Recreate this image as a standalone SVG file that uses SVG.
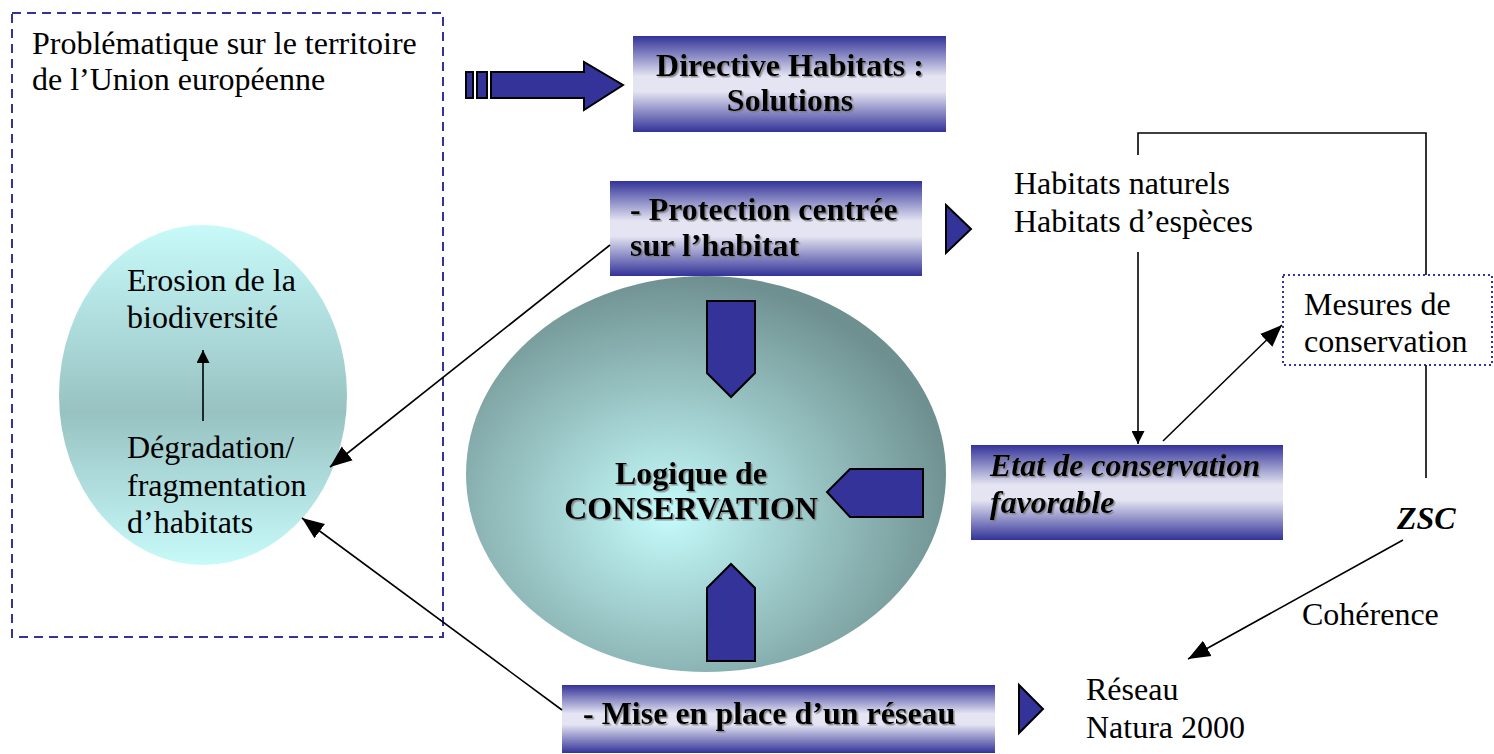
<svg xmlns="http://www.w3.org/2000/svg" width="1494" height="754" viewBox="0 0 1494 754">
  <defs>
    <linearGradient id="boxGrad" x1="0" y1="0" x2="0" y2="1">
      <stop offset="0" stop-color="#333399"/>
      <stop offset="0.42" stop-color="#e4e4f2"/>
      <stop offset="0.58" stop-color="#e4e4f2"/>
      <stop offset="1" stop-color="#333399"/>
    </linearGradient>
    <linearGradient id="leftGrad" x1="0" y1="0" x2="0" y2="1">
      <stop offset="0" stop-color="#c8fafa"/>
      <stop offset="0.55" stop-color="#98c2c2"/>
      <stop offset="1" stop-color="#c8fafa"/>
    </linearGradient>
    <radialGradient id="centerGrad" cx="0.42" cy="0.6" r="0.6">
      <stop offset="0" stop-color="#c6fcfc"/>
      <stop offset="1" stop-color="#6f9090"/>
    </radialGradient>
    <marker id="arrow" viewBox="0 0 10 10" refX="10" refY="5" markerWidth="13" markerHeight="13" markerUnits="userSpaceOnUse" orient="auto">
      <path d="M0,0 L10,5 L0,10 z" fill="#000"/>
    </marker>
    <marker id="arrowBig" viewBox="0 0 10 10" refX="10" refY="5" markerWidth="22" markerHeight="22" markerUnits="userSpaceOnUse" orient="auto">
      <path d="M0,1 L10,5 L0,9 z" fill="#000"/>
    </marker>
    <filter id="shadow" x="-5%" y="-5%" width="110%" height="120%">
      <feDropShadow dx="1.5" dy="1.5" stdDeviation="0.6" flood-color="#777" flood-opacity="0.8"/>
    </filter>
  </defs>
  <style>
    .serif { font-family: "Liberation Serif", "Times New Roman", serif; font-size: 32px; fill: #000; }
    .bold { font-weight: bold; }
    .ital { font-style: italic; }
    .gbox { fill: url(#boxGrad); }
    .blue { fill: #333399; stroke: #000; stroke-width: 2; stroke-linejoin: miter; }
    .conn { fill: none; stroke: #000; stroke-width: 1.6; }
  </style>

  <!-- Problem area -->
  <g id="problem">
    <rect x="12" y="13" width="431" height="624" fill="none" stroke="#33339a" stroke-width="2" stroke-dasharray="9,6"/>
    <text class="serif" x="32" y="54">Problématique sur le territoire</text>
    <text class="serif" x="32" y="90">de l’Union européenne</text>
  </g>

  <!-- Biodiversity ellipse -->
  <g id="erosion">
    <ellipse cx="203" cy="395" rx="144" ry="170" fill="url(#leftGrad)"/>
    <text class="serif" x="127" y="291">Erosion de la</text>
    <text class="serif" x="127" y="328">biodiversité</text>
    <line x1="203" y1="421" x2="203" y2="350" class="conn" marker-end="url(#arrow)"/>
    <text class="serif" x="127" y="458">Dégradation/</text>
    <text class="serif" x="127" y="496">fragmentation</text>
    <text class="serif" x="127" y="533">d’habitats</text>
  </g>

  <!-- Big arrow to directive -->
  <g id="bigArrow">
    <rect x="466" y="72" width="7" height="26" class="blue"/>
    <rect x="477" y="72" width="10" height="26" class="blue"/>
    <path d="M491,72 L584,72 L584,62 L623,85 L584,110 L584,98 L491,98 z" class="blue"/>
  </g>

  <!-- Directive Habitats -->
  <g id="directive">
    <rect x="633" y="36" width="313" height="96" class="gbox"/>
    <g filter="url(#shadow)">
      <text class="serif bold" x="790" y="76" text-anchor="middle">Directive Habitats :</text>
      <text class="serif bold" x="790" y="111" text-anchor="middle">Solutions</text>
    </g>
  </g>

  <!-- Central logic ellipse -->
  <g id="logique">
    <ellipse cx="706" cy="474" rx="240" ry="198" fill="url(#centerGrad)"/>
    <path d="M707,301 L755,301 L755,373 L731,397 L707,373 z" class="blue"/>
    <path d="M923,469 L923,517 L850,517 L827,492 L850,469 z" class="blue"/>
    <path d="M707,661 L755,661 L755,588 L731,564 L707,588 z" class="blue"/>
    <g filter="url(#shadow)">
      <text class="serif bold" x="691" y="484" text-anchor="middle">Logique de</text>
      <text class="serif bold" x="691" y="519" text-anchor="middle">CONSERVATION</text>
    </g>
  </g>

  <!-- Protection -->
  <g id="protection">
    <rect x="610" y="181" width="312" height="95" class="gbox"/>
    <g filter="url(#shadow)">
      <text class="serif bold" x="630" y="220">- Protection centrée</text>
      <text class="serif bold" x="630" y="256">sur l’habitat</text>
    </g>
    <path d="M946,205 L971,229 L946,253 z" class="blue" stroke-width="1.5"/>
  </g>

  <g id="habitats">
    <text class="serif" x="1014" y="194">Habitats naturels</text>
    <text class="serif" x="1014" y="232">Habitats d’espèces</text>
  </g>

  <!-- Mesures -->
  <g id="mesures">
    <rect x="1283" y="275" width="209" height="90" fill="#fff" stroke="#33339a" stroke-width="2" stroke-dasharray="2,3"/>
    <text class="serif" x="1304" y="315">Mesures de</text>
    <text class="serif" x="1304" y="352">conservation</text>
  </g>

  <!-- Etat -->
  <g id="etat">
    <rect x="971" y="445" width="312" height="95" class="gbox"/>
    <g filter="url(#shadow)">
      <text class="serif bold ital" x="990" y="476">Etat de conservation</text>
      <text class="serif bold ital" x="990" y="513">favorable</text>
    </g>
  </g>

  <g id="zsc">
    <text class="serif bold ital" x="1397" y="529">ZSC</text>
    <text class="serif" x="1302" y="625">Cohérence</text>
  </g>

  <!-- Reseau -->
  <g id="reseau">
    <rect x="562" y="685" width="433" height="68" class="gbox"/>
    <g filter="url(#shadow)">
      <text class="serif bold" x="583" y="724">- Mise en place d’un réseau</text>
    </g>
    <path d="M1019,685 L1043,709 L1019,733 z" class="blue" stroke-width="1.5"/>
  </g>

  <g id="natura">
    <text class="serif" x="1086" y="700">Réseau</text>
    <text class="serif" x="1086" y="738">Natura 2000</text>
  </g>

  <!-- Connectors -->
  <g id="connectors">
    <polyline points="1138,155 1138,133 1426,133 1426,275" class="conn"/>
    <line x1="1426" y1="365" x2="1426" y2="478" class="conn"/>
    <line x1="1138" y1="252" x2="1138" y2="444" class="conn" marker-end="url(#arrow)"/>
    <line x1="1163" y1="441" x2="1282" y2="325" class="conn" marker-end="url(#arrowBig)"/>
    <line x1="1403" y1="540" x2="1188" y2="659" class="conn" marker-end="url(#arrowBig)"/>
    <line x1="610" y1="245" x2="330" y2="467" class="conn" marker-end="url(#arrowBig)"/>
    <line x1="562" y1="710" x2="302" y2="518" class="conn" marker-end="url(#arrowBig)"/>
  </g>
</svg>
